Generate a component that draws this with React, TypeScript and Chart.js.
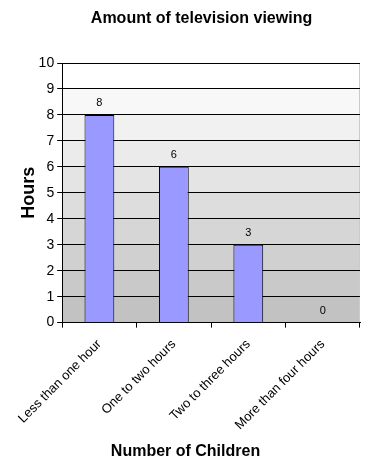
import React, { useEffect, useRef } from "react";
import { Chart, registerables } from "chart.js";

Chart.register(...registerables);

const categories = ["Less than one hour", "One to two hours", "Two to three hours", "More than four hours"];
const hours = [8, 6, 3, 0];
const chartTitle = "Amount of television viewing";
const yTitle = "Hours";
const xTitle = "Number of Children";

const FONT = "'Liberation Sans', Arial, sans-serif";

const bandsPlugin = {
  id: "bands",
  beforeDraw(chart: any) {
    const { ctx, chartArea } = chart;
    const y = chart.scales.y;
    const n = 10;
    ctx.save();
    for (let i = 0; i < n; i++) {
      const y0 = y.getPixelForValue(i);
      const y1 = y.getPixelForValue(i + 1);
      const t = i / (n - 1);
      const g = Math.round(194 + (255 - 194) * t);
      ctx.fillStyle = `rgb(${g},${g},${g})`;
      ctx.fillRect(chartArea.left, y1, chartArea.right - chartArea.left, y0 - y1);
    }
    ctx.strokeStyle = "#c8c8e6";
    ctx.lineWidth = 1;
    ctx.beginPath();
    ctx.moveTo(chartArea.left, chartArea.top + 0.5);
    ctx.lineTo(chartArea.right - 0.5, chartArea.top + 0.5);
    ctx.lineTo(chartArea.right - 0.5, chartArea.bottom);
    ctx.stroke();
    ctx.restore();
  },
};

const labelsPlugin = {
  id: "valueLabels",
  afterDatasetsDraw(chart: any) {
    const { ctx } = chart;
    const meta = chart.getDatasetMeta(0);
    ctx.save();
    ctx.fillStyle = "#000";
    ctx.font = `11px ${FONT}`;
    ctx.textAlign = "center";
    ctx.textBaseline = "bottom";
    meta.data.forEach((bar: any, i: number) => {
      ctx.fillText(String(hours[i]), bar.x, bar.y - 6);
    });
    ctx.restore();
  },
};

const titlesPlugin = {
  id: "titles",
  afterDraw(chart: any) {
    const { ctx, width } = chart;
    ctx.save();
    ctx.fillStyle = "#000";
    ctx.textAlign = "center";
    ctx.textBaseline = "middle";
    ctx.font = `bold 16px ${FONT}`;
    ctx.fillText(chartTitle, width / 2 + 16, 19);
    ctx.font = `bold 16px ${FONT}`;
    ctx.fillText(xTitle, width / 2, 452);
    ctx.restore();
  },
};

export default function App() {
  const ref = useRef<HTMLCanvasElement>(null);
  useEffect(() => {
    document.body.style.margin = "0";
    const chart = new Chart(ref.current!, {
      type: "bar",
      data: {
        labels: categories,
        datasets: [
          {
            data: hours,
            backgroundColor: "#9999ff",
            borderColor: "#000000",
            borderWidth: 1,
            barPercentage: 0.4,
            categoryPercentage: 1,
          },
        ],
      },
      options: {
        responsive: false,
        animation: false,
        layout: { padding: { left: 14, right: 11, top: 63, bottom: 29 } },
        plugins: {
          legend: { display: false },
          tooltip: { enabled: false },
          title: { display: false },
        },
        scales: {
          x: {
            grid: { display: true, drawOnChartArea: false, color: "#000", tickLength: 5, offset: true },
            border: { color: "#000" },
            ticks: {
              color: "#000",
              font: { family: FONT, size: 13 },
              minRotation: 45,
              maxRotation: 45,
              padding: 9,
            },
          },
          y: {
            min: 0,
            max: 10,
            grid: { color: "#000", tickLength: 5 },
            border: { color: "#000" },
            ticks: {
              stepSize: 1,
              color: "#000",
              font: { family: FONT, size: 14 },
              padding: 3,
            },
            title: {
              display: true,
              text: yTitle,
              color: "#000",
              font: { family: FONT, size: 18, weight: "bold" },
              padding: { top: 4, bottom: -4 },
            },
          },
        },
      },
      plugins: [bandsPlugin, labelsPlugin, titlesPlugin],
    });
    return () => chart.destroy();
  }, []);
  return <canvas ref={ref} width={371} height={471} style={{ display: "block" }} />;
}
